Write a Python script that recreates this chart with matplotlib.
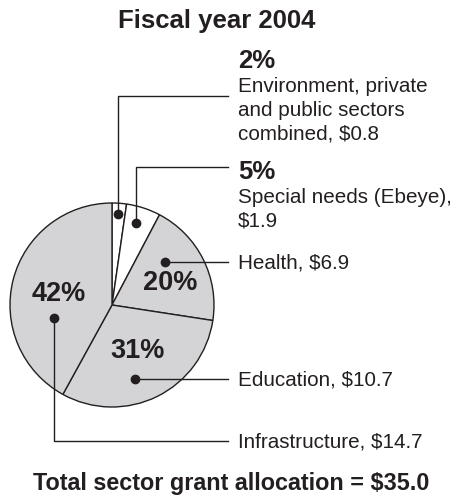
import numpy as np
import matplotlib
matplotlib.use("Agg")
from matplotlib import pyplot as plt

# sector grants, fiscal year 2004 (millions of dollars)
sectors = ["Environment, private\nand public sectors\ncombined", "Special needs (Ebeye)",
           "Health", "Education", "Infrastructure"]
separators = [", ", ",\n", ", ", ", ", ", "]
amounts = [0.8, 1.9, 6.9, 10.7, 14.7]
percents = [2, 5, 20, 31, 42]
total = 35.0

W, H = 455, 504
INK = "#231f20"
GRAY = "#d4d4d6"

plt.rcParams['font.family'] = ['Liberation Sans', 'DejaVu Sans']

fig = plt.figure(figsize=(W / 100, H / 100), dpi=100)
ax = fig.add_axes([0, 0, 1, 1])

cx, cy, rad = 112, H - 305, 102
fills = ["white", "white", GRAY, GRAY, GRAY]
wedges, _ = ax.pie(amounts, startangle=90, counterclock=False, center=(cx, cy),
                   radius=rad, colors=fills, frame=True,
                   wedgeprops=dict(edgecolor=INK, linewidth=1.0))


def in_slice(w, frac, rfrac):
    # point inside a clockwise wedge: frac of the way from its start edge
    ang = np.radians(w.theta2 - frac * (w.theta2 - w.theta1))
    return cx + rfrac * rad * np.cos(ang), cy + rfrac * rad * np.sin(ang)


def block(x, y, text, step=23.5, **kw):
    # one text line per row, baselines step pixels apart
    for k, line in enumerate(text.split("\n")):
        ax.text(x, y - k * step, line, ha='left', va='baseline', **kw)


# leader dot placement inside each slice (fraction along slice, fraction of radius)
dot_pos = [(0.46, 0.89), (0.41, 0.84), (0.33, 0.67), (0.58, 0.76), (0.32, 0.58)]
# percentage labels printed inside the slice (None = printed beside the pie)
pct_pos = [None, None, (0.58, 0.61), (0.475, 0.51), (0.48, 0.53)]
# row of the horizontal leader (None = level with the dot)
leader_y = [H - 96, H - 167, None, None, H - 441]
# baseline of the "n%" heading for the labels printed beside the pie
head_y = [H - 68, H - 179, None, None, None]
line_end = 228
text_x = 238
label_size = 14.9

for i, w in enumerate(wedges):
    dx, dy = in_slice(w, *dot_pos[i])
    ly = dy if leader_y[i] is None else leader_y[i]
    ax.plot([dx, dx, line_end], [dy, ly, ly], color=INK, lw=1.0,
            solid_joinstyle='miter')
    ax.plot(dx, dy, 'o', color=INK, ms=6)
    label = f"{sectors[i]}{separators[i]}${amounts[i]}"
    if pct_pos[i] is not None:
        px, py = in_slice(w, *pct_pos[i])
        ax.text(px, py, f"{percents[i]}%", ha='center', va='center',
                fontsize=19.5, fontweight='bold', color=INK)
        block(text_x, ly - 6.5, label, fontsize=label_size, color=INK)
    else:
        ax.text(text_x, head_y[i], f"{percents[i]}%", ha='left', va='baseline',
                fontsize=18.5, fontweight='bold', color=INK)
        block(text_x, head_y[i] - 24, label, fontsize=label_size, color=INK)

ax.text(217, H - 28, "Fiscal year 2004", ha='center', va='baseline',
        fontsize=18.5, fontweight='bold', color=INK)
ax.text(231, H - 490, f"Total sector grant allocation = ${total:.1f}",
        ha='center', va='baseline', fontsize=16.8, fontweight='bold', color=INK)

ax.set_xlim(0, W)
ax.set_ylim(0, H)
ax.set_aspect('equal')
ax.axis('off')

fig.savefig("out.png", dpi=100)
